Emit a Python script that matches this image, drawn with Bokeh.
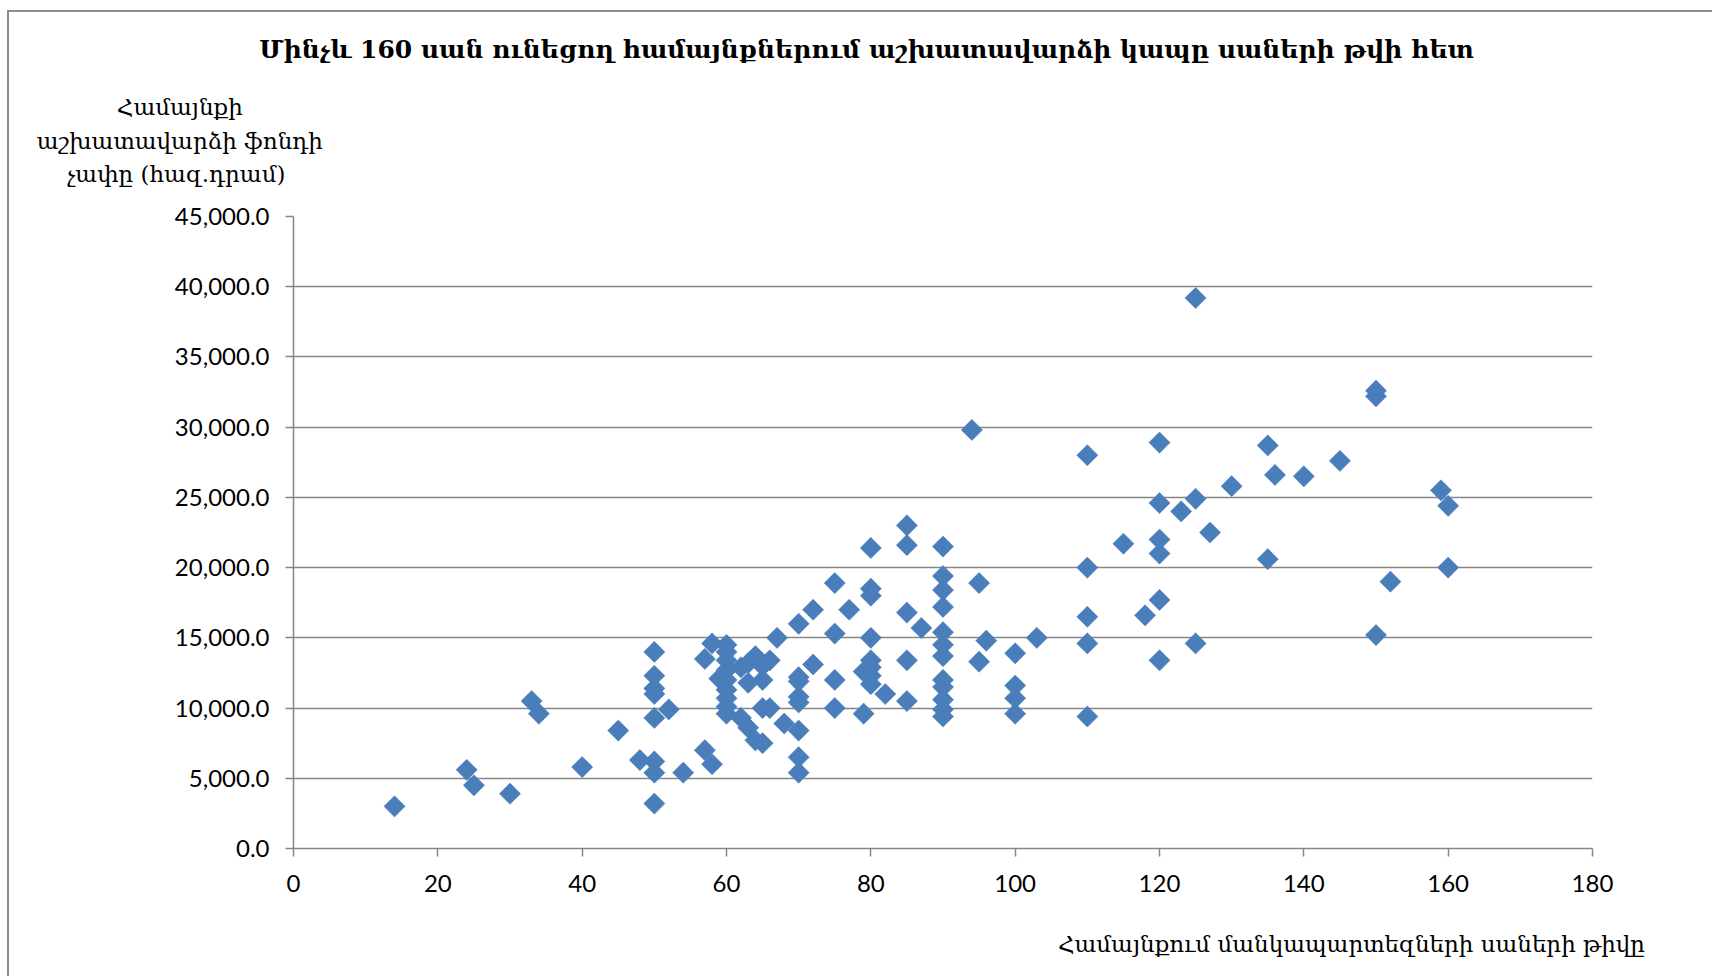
from bokeh.plotting import figure
from bokeh.models import (Range1d, FixedTicker, NumeralTickFormatter, Title,
                          LinearAxis)
from bokeh.embed import file_html
from bokeh.resources import INLINE
import numpy as np

# ---- data ----
pupils = [14, 24, 25, 30, 33, 34, 40, 45, 48,
          50, 50, 50, 50, 50, 50, 50, 50,
          52, 54, 57, 57, 58, 58, 59,
          60, 60, 60, 60, 60, 60, 60, 60, 60,
          62, 62, 63, 63, 63, 64, 64, 65, 65, 65, 65, 66, 66, 67, 68,
          70, 70, 70, 70, 70, 70, 70, 70,
          72, 72, 75, 75, 75, 75, 77, 79, 79,
          80, 80, 80, 80, 80, 80, 80, 80,
          82, 85, 85, 85, 85, 85, 87,
          90, 90, 90, 90, 90, 90, 90, 90, 90, 90, 90, 90,
          94, 95, 95, 96, 100, 100, 100, 100, 103,
          110, 110, 110, 110, 110, 115, 118,
          120, 120, 120, 120, 120, 120, 123, 125, 125, 125, 127, 130,
          135, 135, 136, 140, 145, 150, 150, 150, 152, 159, 160, 160]
wage_fund = [3000, 5600, 4500, 3900, 10500, 9600, 5800, 8400, 6300,
             14000, 12300, 11400, 11000, 9300, 6200, 5400, 3200,
             9900, 5400, 13500, 7000, 14600, 6000, 12100,
             14500, 14000, 13400, 12700, 12000, 11300, 10700, 10100, 9600,
             12900, 9300, 13200, 11800, 8600, 13700, 7700, 13000, 12000, 10000, 7500, 13400, 10000, 15000, 8900,
             16000, 12200, 11900, 10800, 10400, 8400, 6500, 5400,
             17000, 13100, 18900, 15300, 12000, 10000, 17000, 12600, 9600,
             21400, 18500, 18000, 15000, 13400, 12900, 12300, 11700,
             11000, 23000, 21600, 16800, 13400, 10500, 15700,
             21500, 19400, 18400, 17200, 15400, 14500, 13700, 12000, 11500, 10600, 9900, 9400,
             29800, 18900, 13300, 14800, 13900, 11600, 10700, 9600, 15000,
             28000, 20000, 16500, 14600, 9400, 21700, 16600,
             28900, 24600, 22000, 21000, 17700, 13400, 24000, 39200, 24900, 14600, 22500, 25800,
             28700, 20600, 26600, 26500, 27600, 32600, 32200, 15200, 19000, 25500, 24400, 20000]

x_ticks = [0, 20, 40, 60, 80, 100, 120, 140, 160, 180]
y_ticks = [0, 5000, 10000, 15000, 20000, 25000, 30000, 35000, 40000, 45000]

title_text = "Մինչև 160 սան ունեցող համայնքներում աշխատավարձի կապը սաների թվի հետ"
y_title_text = "Համայնքի\nաշխատավարձի ֆոնդի\nչափը  (հազ.դրամ)"
x_title_text = "Համայնքում մանկապարտեզների սաների թիվը"

ARM_FONT = "DejaVu Serif"
TICK_FONT = "Lato"
GRID = "#868686"
BLUE = "#4a7ebb"

# canvas origin on the page is (9, 12): 7/10 px margin + 2 px border
p = figure(width=1705, height=966, output_backend="svg", toolbar_location=None,
           x_range=Range1d(0, 180), y_range=Range1d(0, 45000),
           min_border_left=284, min_border_right=122,
           min_border_top=204, min_border_bottom=130)
p.outline_line_color = None
p.background_fill_color = "white"
p.border_fill_color = "white"

p.xaxis.ticker = FixedTicker(ticks=x_ticks)
p.yaxis.ticker = FixedTicker(ticks=y_ticks)
p.yaxis.formatter = NumeralTickFormatter(format="0,0.0")
for ax in (p.xaxis, p.yaxis):
    ax.axis_line_color = GRID
    ax.axis_line_width = 1.5
    ax.major_tick_line_color = GRID
    ax.major_tick_line_width = 1.5
    ax.major_tick_out = 8
    ax.major_tick_in = 0
    ax.minor_tick_line_color = None
    ax.major_label_text_font = TICK_FONT
    ax.major_label_text_font_size = "24px"
    ax.major_label_text_color = "#000000"
p.yaxis.major_label_standoff = 16
p.xaxis.major_label_standoff = 18

p.xgrid.grid_line_color = None
p.ygrid.grid_line_color = GRID
p.ygrid.grid_line_width = 1.5

p.scatter(pupils, wage_fund, marker="square", size=15, angle=np.pi / 4,
          fill_color=BLUE, line_color=BLUE, line_width=0.5)

# ---- y axis title: multi-line title block in the top panel (nearest the frame)
yt = Title(text=y_title_text, align="left", offset=36 - 292.7,
           vertical_align="bottom", standoff=58, text_font=ARM_FONT,
           text_font_style="normal", text_font_size="23px",
           text_line_height=1.29, text_color="#000000")
try:
    yt.text_align = "center"
except Exception:
    pass
p.add_layout(yt, "above")

# ---- main title: centred text on a bare axis in the top panel
title_pos = [79.4]
t_axis = LinearAxis(ticker=FixedTicker(ticks=title_pos),
                    major_label_overrides={title_pos[0]: title_text})
t_axis.axis_line_color = None
t_axis.major_tick_line_color = None
t_axis.minor_tick_line_color = None
t_axis.major_tick_out = 0
t_axis.major_tick_in = 0
t_axis.major_label_standoff = 0
t_axis.major_label_text_font = ARM_FONT
t_axis.major_label_text_font_style = "bold"
t_axis.major_label_text_font_size = "25px"
t_axis.major_label_text_color = "#000000"
p.add_layout(t_axis, "above")

# ---- x axis title: text on a bare second bottom axis
xt_pos = [146.6]
x_title_axis = LinearAxis(ticker=FixedTicker(ticks=xt_pos),
                          major_label_overrides={xt_pos[0]: x_title_text})
x_title_axis.axis_line_color = None
x_title_axis.major_tick_line_color = None
x_title_axis.minor_tick_line_color = None
x_title_axis.major_tick_out = 0
x_title_axis.major_tick_in = 0
x_title_axis.major_label_standoff = 36
x_title_axis.major_label_text_font = ARM_FONT
x_title_axis.major_label_text_font_size = "23px"
x_title_axis.major_label_text_color = "#000000"
p.add_layout(x_title_axis, "below")

p.styles = {"margin": "10px 0 0 7px",
            "border-top": "2px solid #8c8c8c", "border-left": "2px solid #8c8c8c"}

open("out.html", "w").write(file_html(p, INLINE))
